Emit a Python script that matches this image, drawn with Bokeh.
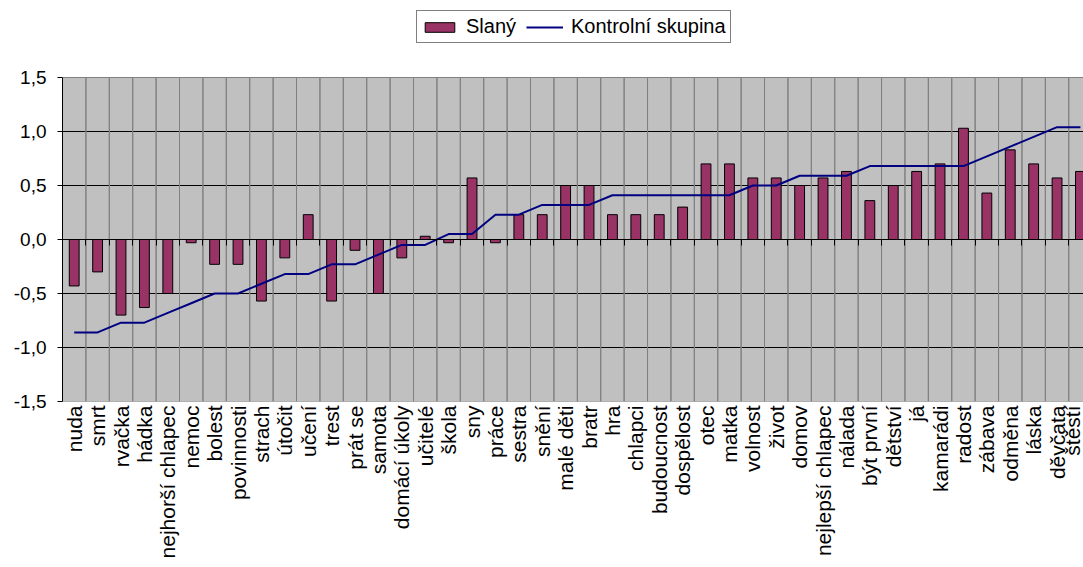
import math
from bokeh.plotting import figure
from bokeh.models import (Range1d, FixedTicker, LinearAxis, CustomJSTickFormatter,
                          Legend, LegendItem, ColumnDataSource, Grid, BoxAnnotation)
from bokeh.embed import file_html
from bokeh.resources import INLINE

categories = ["nuda", "smrt", "rvačka", "hádka", "nejhorší chlapec", "nemoc", "bolest",
              "povinnosti", "strach", "útočit", "učení", "trest", "prát se", "samota",
              "domácí úkoly", "učitelé", "škola", "sny", "práce", "sestra", "snění",
              "malé děti", "bratr", "hra", "chlapci", "budoucnost", "dospělost", "otec",
              "matka", "volnost", "život", "domov", "nejlepší chlapec", "nálada",
              "být první", "dětství", "já", "kamarádi", "radost", "zábava", "odměna",
              "láska", "děvčata", "štěstí"]

slany = [-0.43, -0.30, -0.70, -0.63, -0.50, -0.03, -0.23, -0.23, -0.57, -0.17,
         0.23, -0.57, -0.10, -0.50, -0.17, 0.03, -0.03, 0.57, -0.03, 0.23,
         0.23, 0.50, 0.50, 0.23, 0.23, 0.23, 0.30, 0.70, 0.70, 0.57,
         0.57, 0.50, 0.57, 0.63, 0.36, 0.50, 0.63, 0.70, 1.03, 0.43,
         0.83, 0.70, 0.57, 0.63]

kontrolni = [-0.86, -0.86, -0.77, -0.77, -0.68, -0.59, -0.50, -0.50, -0.41, -0.32,
             -0.32, -0.23, -0.23, -0.14, -0.05, -0.05, 0.05, 0.05, 0.23, 0.23,
             0.32, 0.32, 0.32, 0.41, 0.41, 0.41, 0.41, 0.41, 0.41, 0.50,
             0.50, 0.59, 0.59, 0.59, 0.68, 0.68, 0.68, 0.68, 0.68, 0.77,
             0.86, 0.95, 1.04, 1.04]

y_ticks = [-1.5, -1.0, -0.5, 0.0, 0.5, 1.0, 1.5]

n = len(categories)
xs = [i + 0.5 for i in range(n)]
src = ColumnDataSource(dict(x=xs, cat=categories, slany=slany, kontrolni=kontrolni))
ymin, ymax = y_ticks[0], y_ticks[-1]

FONT = "Liberation Sans"

# frame covers the legend strip too; the grey plot area is a box from ymin to ymax
FRAME_TOP_EXTRA = 77 / 108.0
p = figure(width=1083, height=567, output_backend="svg", toolbar_location=None,
           x_range=Range1d(0, 43.63), y_range=Range1d(ymin, ymax + FRAME_TOP_EXTRA),
           x_axis_location=None, y_axis_location=None,
           min_border_left=62, min_border_right=0, min_border_top=0, min_border_bottom=166)
# drop any default grids
p.center = [r for r in p.center if not isinstance(r, Grid)]
p.background_fill_color = "white"
p.border_fill_color = "white"
p.outline_line_color = None

plot_area = BoxAnnotation(bottom=ymin, top=ymax, fill_color="#C0C0C0", fill_alpha=1,
                          line_color="#808080", line_width=1, level="underlay")
p.add_layout(plot_area)

hgrid = Grid(dimension=1, ticker=FixedTicker(ticks=y_ticks[1:-1]),
             grid_line_color="black", grid_line_width=1)
p.add_layout(hgrid)

# vertical separators between categories, limited to the plot area
p.vbar(x="x", top=ymax, bottom=ymin, width=1, source=src,
       fill_color=None, line_color="#808080", line_width=1)

bars = p.vbar(x="x", top="slany", bottom=0, width=0.42, source=src,
              fill_color="#993366", line_color="black", line_width=1)
line = p.line(x="x", y="kontrolni", source=src, line_color="#000080", line_width=2)

# y axis
yaxis = LinearAxis(ticker=FixedTicker(ticks=y_ticks), bounds=(ymin, ymax),
                   formatter=CustomJSTickFormatter(code="return tick.toFixed(1).replace('.', ',');"),
                   axis_line_color="black", axis_line_width=1,
                   major_tick_out=5, major_tick_in=0, minor_tick_out=0, minor_tick_in=0,
                   major_tick_line_color="black",
                   major_label_standoff=11,
                   major_label_text_font=FONT, major_label_text_font_size="19px",
                   major_label_text_color="black")
p.add_layout(yaxis, "left")

# zero axis with tick marks at category boundaries
zaxis = LinearAxis(ticker=FixedTicker(ticks=list(range(0, n + 1))),
                   formatter=CustomJSTickFormatter(code="return '';"),
                   fixed_location=0,
                   axis_line_color="black", axis_line_width=1,
                   major_tick_out=6, major_tick_in=0, minor_tick_out=0, minor_tick_in=0,
                   major_tick_line_color="black", major_label_standoff=0)
p.add_layout(zaxis, "below")

# category label axis
xaxis = LinearAxis(ticker=FixedTicker(ticks=xs),
                   formatter=CustomJSTickFormatter(args=dict(labels=categories),
                                                   code="return labels[Math.round(tick - 0.5)];"),
                   axis_line_color=None, major_tick_out=0, major_tick_in=0,
                   minor_tick_out=0, minor_tick_in=0,
                   major_label_standoff=4,
                   major_label_orientation=math.pi / 2,
                   major_label_text_font=FONT, major_label_text_font_size="21px",
                   major_label_text_color="black")
p.add_layout(xaxis, "below")

legend = Legend(items=[LegendItem(label="Slaný", renderers=[bars]),
                       LegendItem(label="Kontrolní skupina", renderers=[line])],
                orientation="horizontal", location=(354, 358),
                border_line_color="black", border_line_width=1,
                background_fill_color="white", background_fill_alpha=1,
                padding=4, spacing=10, margin=0, label_standoff=8,
                glyph_width=37, glyph_height=12,
                label_text_font=FONT, label_text_font_size="20px",
                label_text_color="black")
p.add_layout(legend, "center")

open("out.html", "w").write(file_html(p, INLINE))
